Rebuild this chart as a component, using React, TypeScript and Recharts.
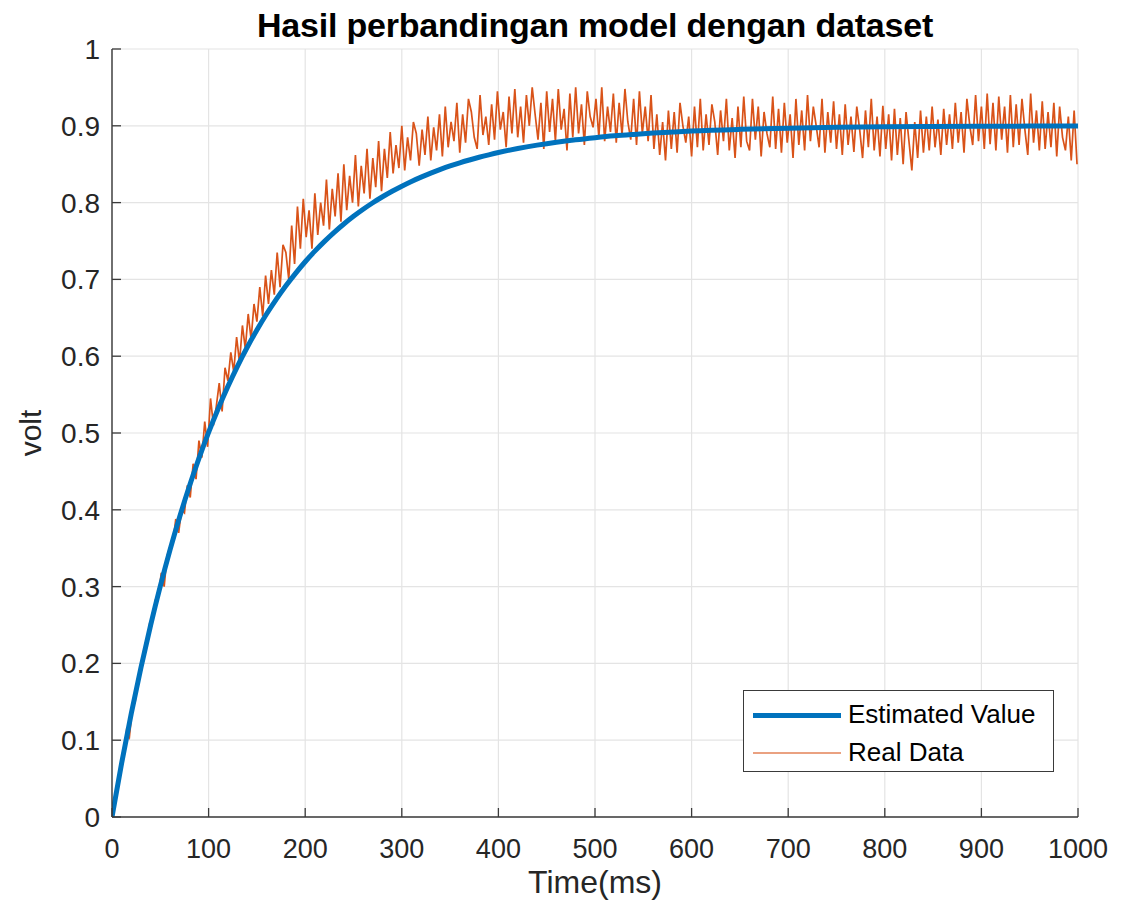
import { LineChart, Line, XAxis, YAxis, CartesianGrid } from 'recharts';

// time axis of the model curve (ms) and its values (volt)
const estimatedTime = [
  0, 10, 20, 30, 40, 50, 60, 70, 80, 90,
  100, 110, 120, 130, 140, 150, 160, 170, 180, 190,
  200, 210, 220, 230, 240, 250, 260, 270, 280, 290,
  300, 310, 320, 330, 340, 350, 360, 370, 380, 390,
  400, 420, 440, 460, 480, 500, 520, 540, 560, 580,
  600, 650, 700, 750, 800, 850, 900, 950, 1000,
];
const estimatedVolt = [
  0, 0.0703, 0.1351, 0.1948, 0.2499, 0.3006, 0.3474, 0.3906, 0.4304, 0.4670,
  0.5008, 0.5320, 0.5607, 0.5872, 0.6116, 0.6341, 0.6549, 0.6740, 0.6917, 0.7079,
  0.7230, 0.7368, 0.7495, 0.7612, 0.7721, 0.7821, 0.7913, 0.7998, 0.8076, 0.8148,
  0.8214, 0.8276, 0.8332, 0.8384, 0.8432, 0.8477, 0.8518, 0.8555, 0.8590, 0.8622,
  0.8652, 0.8704, 0.8748, 0.8786, 0.8818, 0.8845, 0.8869, 0.8888, 0.8905, 0.8919,
  0.8932, 0.8954, 0.8969, 0.8980, 0.8987, 0.8991, 0.8994, 0.8996, 0.8997,
];

// measured samples, one every 3 ms starting at 0 ms
const REAL_STEP_MS = 3;
const realVolt = [
  0, 0.022, 0.040, 0.066, 0.078, 0.112, 0.104, 0.141, 0.150, 0.180,
  0.192, 0.218, 0.224, 0.252, 0.256, 0.283, 0.287, 0.318, 0.300, 0.340,
  0.352, 0.357, 0.388, 0.370, 0.400, 0.396, 0.432, 0.416, 0.460, 0.440,
  0.490, 0.468, 0.515, 0.482, 0.545, 0.510, 0.535, 0.565, 0.528, 0.585,
  0.568, 0.605, 0.580, 0.625, 0.592, 0.640, 0.610, 0.655, 0.622, 0.668,
  0.645, 0.690, 0.652, 0.705, 0.668, 0.712, 0.680, 0.735, 0.690, 0.745,
  0.735, 0.700, 0.770, 0.720, 0.795, 0.740, 0.805, 0.755, 0.790, 0.740,
  0.812, 0.758, 0.800, 0.770, 0.830, 0.765, 0.818, 0.782, 0.838, 0.775,
  0.850, 0.790, 0.835, 0.800, 0.862, 0.795, 0.848, 0.812, 0.870, 0.805,
  0.858, 0.820, 0.880, 0.815, 0.870, 0.832, 0.892, 0.838, 0.875, 0.845,
  0.900, 0.842, 0.885, 0.855, 0.905, 0.890, 0.848, 0.895, 0.862, 0.912,
  0.855, 0.898, 0.868, 0.915, 0.860, 0.925, 0.872, 0.905, 0.880, 0.930,
  0.865, 0.915, 0.878, 0.935, 0.918, 0.885, 0.870, 0.940, 0.888, 0.912,
  0.875, 0.928, 0.882, 0.945, 0.895, 0.918, 0.872, 0.938, 0.890, 0.948,
  0.885, 0.925, 0.878, 0.940, 0.900, 0.950, 0.915, 0.882, 0.930, 0.870,
  0.945, 0.892, 0.935, 0.880, 0.948, 0.895, 0.922, 0.868, 0.942, 0.885,
  0.950, 0.890, 0.928, 0.875, 0.945, 0.912, 0.898, 0.935, 0.885, 0.950,
  0.880, 0.925, 0.892, 0.942, 0.878, 0.930, 0.888, 0.948, 0.905, 0.882,
  0.935, 0.875, 0.945, 0.890, 0.925, 0.880, 0.940, 0.870, 0.915, 0.862,
  0.905, 0.855, 0.920, 0.870, 0.918, 0.865, 0.930, 0.900, 0.878, 0.912,
  0.860, 0.925, 0.872, 0.935, 0.868, 0.915, 0.875, 0.928, 0.905, 0.862,
  0.920, 0.880, 0.935, 0.868, 0.910, 0.858, 0.925, 0.872, 0.938, 0.880,
  0.868, 0.935, 0.882, 0.925, 0.860, 0.918, 0.890, 0.872, 0.938, 0.870,
  0.922, 0.865, 0.930, 0.878, 0.915, 0.858, 0.935, 0.875, 0.920, 0.868,
  0.940, 0.880, 0.925, 0.900, 0.872, 0.935, 0.865, 0.918, 0.878, 0.932,
  0.870, 0.915, 0.862, 0.928, 0.875, 0.912, 0.866, 0.925, 0.895, 0.858,
  0.920, 0.872, 0.935, 0.868, 0.912, 0.860, 0.926, 0.870, 0.915, 0.855,
  0.922, 0.862, 0.910, 0.850, 0.918, 0.880, 0.842, 0.905, 0.858, 0.920,
  0.865, 0.912, 0.868, 0.925, 0.872, 0.908, 0.862, 0.922, 0.875, 0.915,
  0.870, 0.930, 0.878, 0.918, 0.865, 0.935, 0.900, 0.875, 0.940, 0.880,
  0.925, 0.870, 0.942, 0.876, 0.930, 0.868, 0.938, 0.882, 0.925, 0.865,
  0.940, 0.872, 0.928, 0.875, 0.935, 0.895, 0.862, 0.942, 0.878, 0.920,
  0.868, 0.932, 0.870, 0.918, 0.872, 0.930, 0.860, 0.925, 0.885, 0.868,
  0.912, 0.855, 0.920, 0.850,
];

const xTicks = [0, 100, 200, 300, 400, 500, 600, 700, 800, 900, 1000];
const yTicks = [0, 0.1, 0.2, 0.3, 0.4, 0.5, 0.6, 0.7, 0.8, 0.9, 1];
const yTickLabels = ['0', '0.1', '0.2', '0.3', '0.4', '0.5', '0.6', '0.7', '0.8', '0.9', '1'];

const estimatedData = estimatedTime.map((t, i) => ({ t, v: estimatedVolt[i] }));
const realData = realVolt.map((v, i) => ({ t: i * REAL_STEP_MS, v }));

const FONT = '"Liberation Sans", Arial, Helvetica, sans-serif';
const BOX = '#3a3a3a';
const TEXT = '#262626';
const BLUE = '#0072BD';
const ORANGE = '#D95319';
const TICK_LEN = 9;

function BottomTick({ x, y, payload }: any) {
  return (
    <g>
      <line x1={x} x2={x} y1={y} y2={y - TICK_LEN} stroke={BOX} strokeWidth={1.3} />
      <text x={x} y={y + 41} textAnchor="middle" fontSize={27} fill={TEXT} fontFamily={FONT}>
        {payload.value}
      </text>
    </g>
  );
}

function TopTick({ x, y }: any) {
  return <line x1={x} x2={x} y1={y} y2={y + TICK_LEN} stroke={BOX} strokeWidth={1.3} />;
}

function LeftTick({ x, y, index }: any) {
  return (
    <g>
      <line x1={x} x2={x + TICK_LEN} y1={y} y2={y} stroke={BOX} strokeWidth={1.3} />
      <text x={x - 12} y={y + 10} textAnchor="end" fontSize={28} fill={TEXT} fontFamily={FONT}>
        {yTickLabels[index]}
      </text>
    </g>
  );
}

function RightTick({ x, y }: any) {
  return <line x1={x} x2={x - TICK_LEN} y1={y} y2={y} stroke={BOX} strokeWidth={1.3} />;
}

export default function App() {
  return (
    <div
      style={{
        position: 'absolute',
        left: 0,
        top: 0,
        width: 1123,
        height: 911,
        background: '#fff',
        fontFamily: FONT,
      }}
    >
      {/* Title */}
      <div
        style={{
          position: 'absolute',
          left: 0,
          width: 1190,
          top: 6,
          textAlign: 'center',
          fontSize: 34,
          fontWeight: 700,
          color: '#000',
          letterSpacing: -0.2,
        }}
      >
        Hasil perbandingan model dengan dataset
      </div>

      <LineChart width={1123} height={911} margin={{ top: 49, right: 45, bottom: 0, left: 0 }}>
        <CartesianGrid stroke="#e4e4e4" strokeWidth={1.2} />
        <XAxis
          dataKey="t"
          type="number"
          domain={[0, 1000]}
          ticks={xTicks}
          height={94}
          tickSize={0}
          tickMargin={0}
          tickLine={false}
          axisLine={{ stroke: BOX, strokeWidth: 1.4 }}
          tick={<BottomTick />}
          allowDataOverflow
          label={{
            value: 'Time(ms)',
            position: 'insideBottom',
            offset: 18,
            fontSize: 32,
            fill: TEXT,
            fontFamily: FONT,
          }}
        />
        <XAxis
          xAxisId="top"
          orientation="top"
          dataKey="t"
          type="number"
          domain={[0, 1000]}
          ticks={xTicks}
          height={0}
          tickSize={0}
          tickMargin={0}
          tickLine={false}
          axisLine={{ stroke: BOX, strokeWidth: 1.4 }}
          tick={<TopTick />}
        />
        <YAxis
          type="number"
          domain={[0, 1]}
          ticks={yTicks}
          width={112}
          tickSize={0}
          tickMargin={0}
          tickLine={false}
          axisLine={{ stroke: BOX, strokeWidth: 1.4 }}
          tick={<LeftTick />}
          allowDataOverflow
          label={{
            value: 'volt',
            angle: -90,
            position: 'insideLeft',
            offset: 30,
            fontSize: 30,
            fill: TEXT,
            fontFamily: FONT,
            style: { textAnchor: 'middle' },
          }}
        />
        <YAxis
          yAxisId="right"
          orientation="right"
          type="number"
          domain={[0, 1]}
          ticks={yTicks}
          width={0}
          tickSize={0}
          tickMargin={0}
          tickLine={false}
          axisLine={{ stroke: BOX, strokeWidth: 1.4 }}
          tick={<RightTick />}
        />
        <Line
          data={realData}
          dataKey="v"
          type="linear"
          stroke={ORANGE}
          strokeWidth={1.7}
          dot={false}
          activeDot={false}
          isAnimationActive={false}
          name="Real Data"
        />
        <Line
          data={estimatedData}
          dataKey="v"
          type="monotone"
          stroke={BLUE}
          strokeWidth={5}
          dot={false}
          activeDot={false}
          isAnimationActive={false}
          name="Estimated Value"
        />
      </LineChart>

      {/* Legend box, MATLAB style */}
      <div
        style={{
          position: 'absolute',
          left: 743,
          top: 690,
          width: 311,
          height: 82,
          background: '#fff',
          border: `1.3px solid ${BOX}`,
          boxSizing: 'border-box',
          fontSize: 26,
          color: '#000',
        }}
      >
        <div style={{ position: 'absolute', left: 9, top: 22, width: 88, height: 5, background: BLUE }} />
        <div style={{ position: 'absolute', left: 104, top: 8 }}>Estimated Value</div>
        <div
          style={{ position: 'absolute', left: 9, top: 61, width: 88, height: 1.5, background: ORANGE, opacity: 0.55 }}
        />
        <div style={{ position: 'absolute', left: 104, top: 46 }}>Real Data</div>
      </div>
    </div>
  );
}
